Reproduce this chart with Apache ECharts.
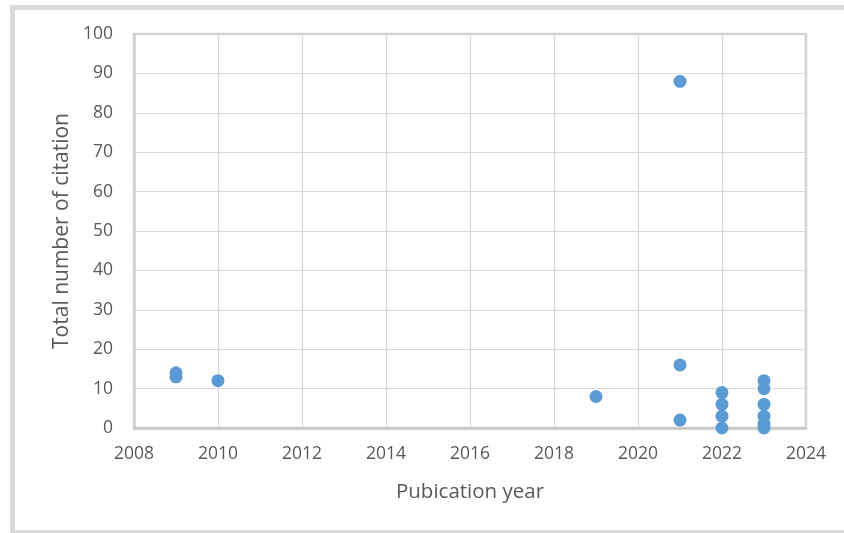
<!DOCTYPE html>
<html>
<head>
<meta charset="utf-8">
<script src="https://cdn.jsdelivr.net/npm/echarts@6/dist/echarts.min.js"></script>
<style>
  html, body { margin: 0; padding: 0; background: #fff; }
  #chart { width: 844px; height: 533px; }
</style>
</head>
<body>
<div id="chart"></div>
<script>
// Publication year and citation count of each paper
const years = [2009, 2009, 2010, 2019, 2021, 2021, 2021, 2022, 2022, 2022, 2022, 2023, 2023, 2023, 2023, 2023, 2023];
const citations = [14, 13, 12, 8, 88, 16, 2, 9, 6, 3, 0, 12, 10, 6, 3, 1, 0];

const xTicks = { min: 2008, max: 2024, interval: 2 };
const yTicks = { min: 0, max: 100, interval: 10 };

const points = years.map((y, i) => [y, citations[i]]);

const labelFont = '"Open Sans", "Liberation Sans", sans-serif';

const chart = echarts.init(document.getElementById('chart'), null, { renderer: 'canvas' });
chart.setOption({
  animation: false,
  backgroundColor: '#fff',
  graphic: [{
    type: 'rect',
    shape: { x: 12.5, y: 7.5, width: 900, height: 525 },
    style: { fill: 'none', stroke: '#d9d9d9', lineWidth: 5 },
    silent: true
  }],
  grid: {
    left: 134, right: 38, top: 34, bottom: 105,
    show: true, borderColor: '#d0d0d0', borderWidth: 2.5
  },
  xAxis: {
    type: 'value',
    min: xTicks.min, max: xTicks.max, interval: xTicks.interval,
    name: 'Pubication year', nameLocation: 'middle', nameGap: 54,
    nameTextStyle: { fontFamily: labelFont, fontSize: 20.5, color: '#595959' },
    axisLine: { show: true, lineStyle: { color: '#c8c8c8', width: 2.5 } },
    axisTick: { show: false },
    axisLabel: {
      fontFamily: labelFont, fontSize: 17.5, color: '#595959', margin: 17,
      formatter: v => String(v)
    },
    splitLine: { show: true, lineStyle: { color: '#d9d9d9', width: 1.2 } }
  },
  yAxis: {
    type: 'value',
    min: yTicks.min, max: yTicks.max, interval: yTicks.interval,
    name: 'Total number of citation', nameLocation: 'middle', nameGap: 61,
    nameTextStyle: { fontFamily: labelFont, fontSize: 21, color: '#595959' },
    axisLine: { show: true, lineStyle: { color: '#d0d0d0', width: 2.5 } },
    axisTick: { show: false },
    axisLabel: { fontFamily: labelFont, fontSize: 17.5, color: '#595959', margin: 21 },
    splitLine: { show: true, lineStyle: { color: '#d9d9d9', width: 1.2 } }
  },
  series: [{
    type: 'scatter',
    data: points,
    symbol: 'circle',
    symbolSize: 13,
    itemStyle: { color: '#5b9bd5', opacity: 1 }
  }]
});
</script>
</body>
</html>
